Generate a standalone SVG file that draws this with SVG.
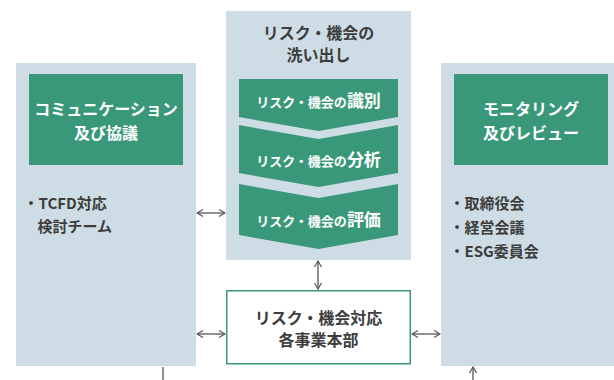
<svg xmlns="http://www.w3.org/2000/svg" width="614" height="380" viewBox="0 0 614 380">
<defs>
<style>
.panel{fill:#cedde5}
.green{fill:#3a987a}
.t{font-family:"Noto Sans CJK JP","Noto Sans",sans-serif;font-weight:700}
.w{fill:#ffffff}
.d{fill:#3d3d3d}
.ln{stroke:#555;stroke-width:1.3;fill:none}
</style>
<marker id="ah" viewBox="0 0 8 8" refX="7" refY="4" markerWidth="8" markerHeight="8" markerUnits="userSpaceOnUse" orient="auto-start-reverse">
<path d="M1,0.5 L7,4 L1,7.5" fill="none" stroke="#555" stroke-width="1.2"/>
</marker>
</defs>
<rect width="614" height="380" fill="#ffffff"/>

<g id="communication">
<rect class="panel" x="16" y="63" width="180" height="303"/>
<rect class="green" x="29" y="74" width="154" height="91"/>
<text class="t w" font-size="16" text-anchor="middle" x="106" y="115">コミュニケーション</text>
<text class="t w" font-size="16" text-anchor="middle" x="106" y="139">及び協議</text>
<text class="t d" font-size="15" x="23.5" y="209">・TCFD対応</text>
<text class="t d" font-size="15" x="37.5" y="232">検討チーム</text>
</g>

<g id="identification">
<rect class="panel" x="226" y="11" width="185" height="249"/>
<text class="t d" font-size="16" text-anchor="middle" x="318.5" y="39">リスク・機会の</text>
<text class="t d" font-size="16" text-anchor="middle" x="318.5" y="61">洗い出し</text>
<path class="green" d="M239,79 H398 V117 L318.5,131 L239,117 Z"/>
<path class="green" d="M239,125 L318.5,139 L398,125 V173 L318.5,187 L239,173 Z"/>
<path class="green" d="M239,184 L318.5,198 L398,184 V235 L318.5,249 L239,235 Z"/>
<text class="t w" text-anchor="middle" x="318.5" y="107"><tspan font-size="13">リスク・機会の</tspan><tspan font-size="17">識別</tspan></text>
<text class="t w" text-anchor="middle" x="318.5" y="166"><tspan font-size="13">リスク・機会の</tspan><tspan font-size="17">分析</tspan></text>
<text class="t w" text-anchor="middle" x="318.5" y="226"><tspan font-size="13">リスク・機会の</tspan><tspan font-size="17">評価</tspan></text>
</g>

<g id="monitoring">
<rect class="panel" x="441" y="63" width="180" height="303"/>
<rect class="green" x="454" y="74" width="154" height="91"/>
<text class="t w" font-size="16" text-anchor="middle" x="531" y="115">モニタリング</text>
<text class="t w" font-size="16" text-anchor="middle" x="531" y="139">及びレビュー</text>
<text class="t d" font-size="15" x="449.5" y="209">・取締役会</text>
<text class="t d" font-size="15" x="449.5" y="233">・経営会議</text>
<text class="t d" font-size="15" x="449.5" y="257">・ESG委員会</text>
</g>

<g id="business">
<rect x="226.75" y="290.75" width="183.5" height="73" fill="#ffffff" stroke="#3a987a" stroke-width="1.5"/>
<text class="t d" font-size="16" text-anchor="middle" x="318.5" y="324">リスク・機会対応</text>
<text class="t d" font-size="16" text-anchor="middle" x="318.5" y="346">各事業本部</text>
</g>

<g id="connectors">
<line class="ln" x1="197" y1="213" x2="225" y2="213" marker-start="url(#ah)" marker-end="url(#ah)"/>
<line class="ln" x1="197" y1="334" x2="225" y2="334" marker-start="url(#ah)" marker-end="url(#ah)"/>
<line class="ln" x1="412" y1="334" x2="440" y2="334" marker-start="url(#ah)" marker-end="url(#ah)"/>
<line class="ln" x1="318" y1="261" x2="318" y2="289" marker-start="url(#ah)" marker-end="url(#ah)"/>
<line class="ln" x1="163" y1="367" x2="163" y2="380"/>
<line class="ln" x1="473" y1="380" x2="473" y2="367" marker-end="url(#ah)"/>
</g>
</svg>
